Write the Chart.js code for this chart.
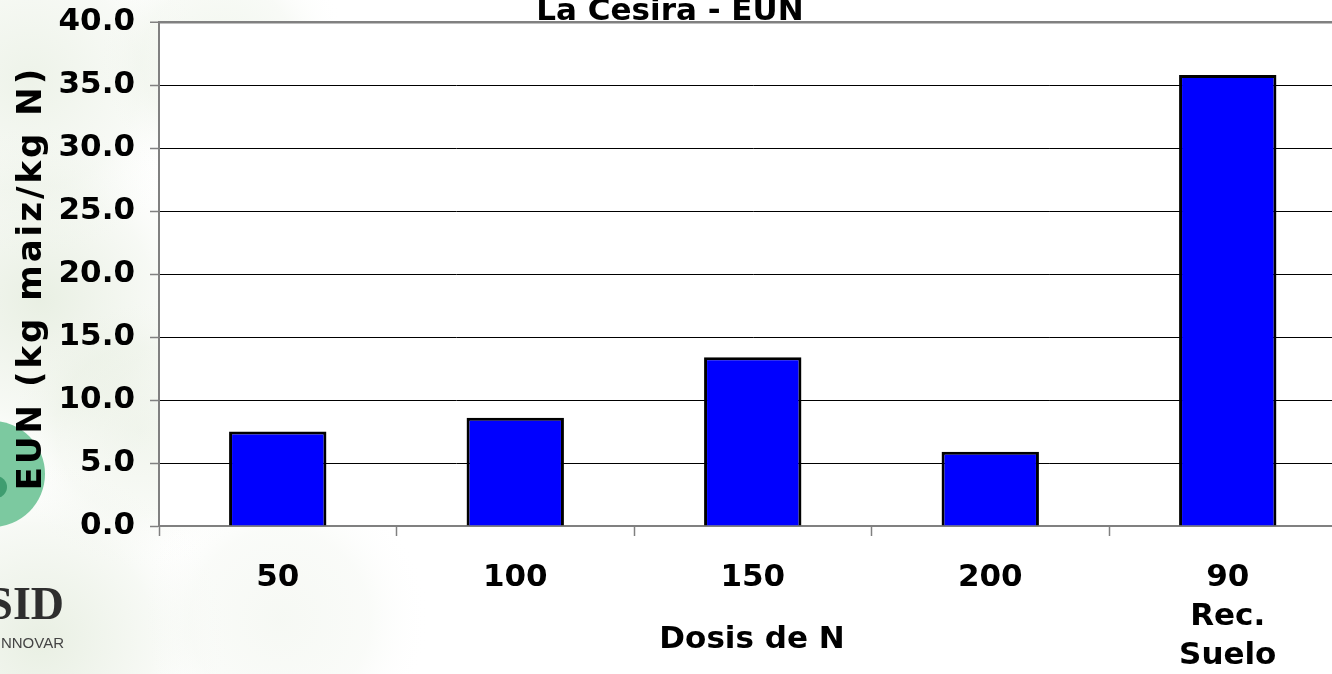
<!DOCTYPE html>
<html>
<head>
<meta charset="utf-8">
<script src="https://cdn.jsdelivr.net/npm/chart.js@4.4.1/dist/chart.umd.min.js"></script>
<style>
  html, body { margin: 0; padding: 0; overflow: hidden; background: #fff; }
  #wrap { width: 1350px; height: 674px; }
</style>
</head>
<body>
<div id="wrap"><canvas id="chart" width="1350" height="674"></canvas></div>
<script>
// data
const categories = ["50", "100", "150", "200", ["90", "Rec.", "Suelo"]];
const eunValues = [7.5, 8.6, 13.4, 5.9, 35.8];
const yMin = 0;
const yMax = 40;
const yStep = 5;

const chartTitle = "La Cesira - EUN";
const xTitle = "Dosis de N";
const yTitle = "EUN (kg maiz/kg N)";

const FONT = '"DejaVu Sans", Verdana, sans-serif';

// faint slide background + logo on the left
const slideBackground = {
  id: "slideBackground",
  beforeDraw(chart) {
    const ctx = chart.ctx;
    const area = chart.chartArea;
    ctx.save();
    ctx.fillStyle = "#ffffff";
    ctx.fillRect(0, 0, chart.width, chart.height);

    const blob = (x, y, r, col) => {
      const g = ctx.createRadialGradient(x, y, 0, x, y, r);
      g.addColorStop(0, col);
      g.addColorStop(0.6, col.replace(/[\d.]+\)$/, "0.15)"));
      g.addColorStop(1, "rgba(255,255,255,0)");
      ctx.fillStyle = g;
      ctx.fillRect(x - r, y - r, r * 2, r * 2);
    };
    blob(30, 80, 180, "rgba(205,220,192,0.35)");
    blob(220, 60, 130, "rgba(210,224,198,0.3)");
    blob(40, 300, 190, "rgba(200,216,186,0.4)");
    blob(140, 430, 140, "rgba(208,222,195,0.3)");
    blob(40, 640, 190, "rgba(200,216,186,0.4)");
    blob(280, 620, 150, "rgba(220,230,212,0.25)");

    // green circle of the logo
    ctx.fillStyle = "#7cc9a0";
    ctx.beginPath();
    ctx.arc(-8, 474, 53, 0, Math.PI * 2);
    ctx.fill();
    ctx.fillStyle = "#3f9d70";
    ctx.beginPath();
    ctx.arc(-4, 487, 11, 0, Math.PI * 2);
    ctx.fill();

    ctx.fillStyle = "#2e2e2e";
    ctx.font = 'bold 46px "Liberation Serif", serif';
    ctx.textAlign = "right";
    ctx.textBaseline = "alphabetic";
    ctx.fillText("SID", 64, 619);
    ctx.font = '15px "Liberation Sans", sans-serif';
    ctx.fillStyle = "#444";
    ctx.fillText("INNOVAR", 64, 648);

    // plot area is white
    ctx.fillStyle = "#ffffff";
    ctx.fillRect(area.left, area.top, area.right - area.left, area.bottom - area.top);
    ctx.restore();
  }
};

// titles drawn by hand (title is cut at the top, y title is letter-spaced)
const titles = {
  id: "titles",
  afterDraw(chart) {
    const ctx = chart.ctx;
    ctx.save();
    ctx.fillStyle = "#000";
    ctx.font = "bold 31px " + FONT;
    ctx.textAlign = "center";
    ctx.textBaseline = "alphabetic";
    ctx.fillText(chartTitle, 670, 20);

    ctx.font = "bold 31px " + FONT;
    ctx.textBaseline = "middle";
    ctx.fillText(xTitle, 752, 640);

    ctx.translate(32, 278);
    ctx.rotate(-Math.PI / 2);
    ctx.font = "bold 34px " + FONT;
    ctx.letterSpacing = "3px";
    ctx.fillText(yTitle, 0, 0);
    ctx.restore();
  }
};

const chart = new Chart(document.getElementById("chart"), {
  type: "bar",
  plugins: [slideBackground, titles],
  data: {
    labels: categories,
    datasets: [
      {
        data: eunValues,
        backgroundColor: "#0000ff",
        borderColor: "#000000",
        borderWidth: 3,
        barPercentage: 0.41,
        categoryPercentage: 1.0,
      },
    ],
  },
  options: {
    responsive: false,
    animation: false,
    layout: { padding: { top: 22, left: 0, right: 3.5, bottom: 0 } },
    plugins: {
      legend: { display: false },
      tooltip: { enabled: false },
      title: { display: false },
    },
    scales: {
      x: {
        afterFit: (scale) => { scale.height = 148; },
        grid: {
          offset: true,
          drawOnChartArea: false,
          drawTicks: true,
          tickLength: 10,
          tickColor: "#808080",
          tickWidth: 1.5,
        },
        border: { display: true, color: "#808080", width: 2 },
        ticks: {
          color: "#000",
          padding: 23,
          maxRotation: 0,
          autoSkip: false,
          font: { family: FONT, size: 31, weight: "bold", lineHeight: 1.25 },
        },
      },
      y: {
        min: yMin,
        max: yMax,
        afterFit: (scale) => {
          scale.width = 159;
          scale.paddingTop = 10;
          scale.paddingBottom = 10;
        },
        grid: {
          color: (c) => (c.tick && c.tick.value === yMax ? "#808080" : "#000000"),
          lineWidth: (c) => (c.tick && c.tick.value === yMax ? 2.5 : 1),
          drawTicks: true,
          tickLength: 9,
          tickColor: "#808080",
          tickWidth: 1.5,
        },
        border: { display: true, color: "#808080", width: 2 },
        ticks: {
          stepSize: yStep,
          color: "#000",
          padding: 15,
          font: { family: FONT, size: 31, weight: "bold" },
          callback: (v) => Number(v).toFixed(1),
        },
      },
    },
  },
});
</script>
</body>
</html>
